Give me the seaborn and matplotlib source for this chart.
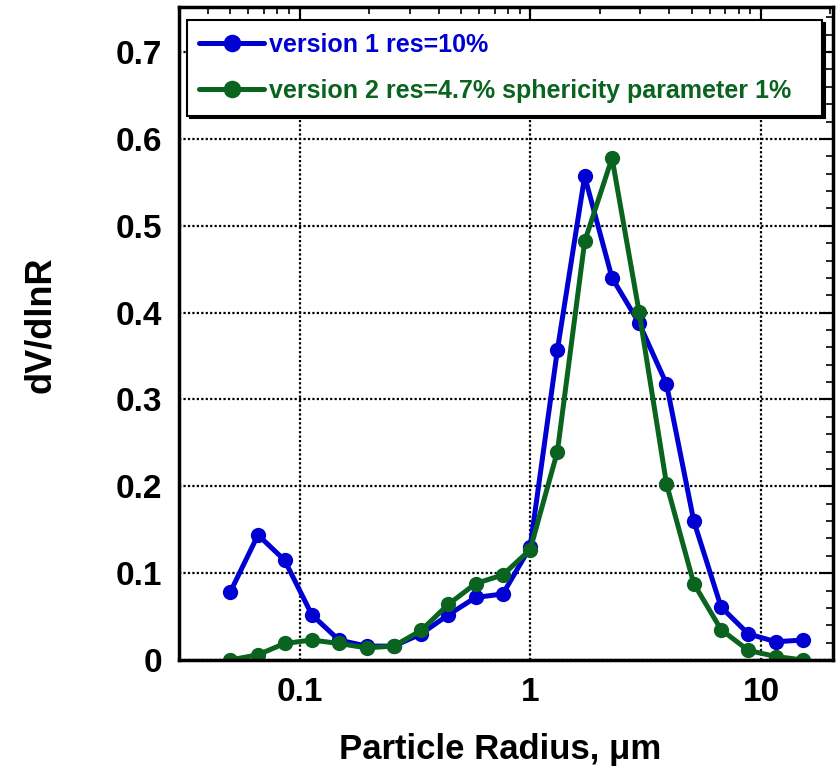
import numpy as np
import pandas as pd
import matplotlib
matplotlib.use("Agg")
import matplotlib.pyplot as plt
import matplotlib.ticker as mticker
import seaborn as sns

# ---- data ----
radius = [0.050, 0.066, 0.086, 0.113, 0.148, 0.195, 0.256, 0.336, 0.441, 0.579,
          0.760, 0.998, 1.31, 1.72, 2.26, 2.96, 3.89, 5.11, 6.71, 8.81, 11.6, 15.2]
v1 = [0.078, 0.144, 0.115, 0.052, 0.023, 0.016, 0.016, 0.030, 0.052, 0.072,
      0.076, 0.130, 0.357, 0.557, 0.440, 0.388, 0.318, 0.160, 0.061, 0.030, 0.021, 0.023]
v2 = [0.000, 0.006, 0.019, 0.023, 0.019, 0.014, 0.016, 0.034, 0.064, 0.088,
      0.098, 0.127, 0.240, 0.482, 0.578, 0.401, 0.203, 0.088, 0.035, 0.011, 0.004, 0.000]
label1 = "version 1 res=10%"
label2 = "version 2 res=4.7% sphericity parameter 1%"
yticks = [0, 0.1, 0.2, 0.3, 0.4, 0.5, 0.6, 0.7]
ytick_labels = ["0", "0.1", "0.2", "0.3", "0.4", "0.5", "0.6", "0.7"]
xticks = [0.1, 1, 10]
xtick_labels = ["0.1", "1", "10"]

df = pd.DataFrame({
    "radius": radius * 2,
    "value": v1 + v2,
    "series": [label1] * len(radius) + [label2] * len(radius),
})

sns.set_style("white")
plt.rcParams["font.family"] = ["Liberation Sans", "DejaVu Sans"]
plt.rcParams["font.weight"] = "bold"
plt.rcParams["text.color"] = "black"
plt.rcParams["axes.labelcolor"] = "black"
plt.rcParams["xtick.color"] = "black"
plt.rcParams["ytick.color"] = "black"

blue = "#0000d2"
green = "#0b6320"

fig = plt.figure(figsize=(8.38, 7.75), dpi=100)
ax = fig.add_axes([0.2136, 0.1484, 0.7804, 0.8426])

sns.lineplot(data=df, x="radius", y="value", hue="series",
             palette={label1: blue, label2: green},
             marker="o", markersize=11, markeredgewidth=0, linewidth=3.6,
             dashes=False, ax=ax, legend=True, sort=False)

ax.set_xscale("log")
ax.set_xlim(0.03, 20.5)
ax.set_ylim(0, 0.752)

ax.set_yticks(yticks)
ax.set_yticklabels(ytick_labels)
ax.yaxis.set_minor_locator(mticker.MultipleLocator(0.02))
ax.xaxis.set_major_locator(mticker.FixedLocator(xticks))
ax.xaxis.set_major_formatter(mticker.FixedFormatter(xtick_labels))
ax.xaxis.set_minor_locator(mticker.LogLocator(base=10, subs=np.arange(2, 10), numticks=20))
ax.xaxis.set_minor_formatter(mticker.NullFormatter())

ax.tick_params(which="major", direction="in", length=10, width=1.5,
               top=True, right=True, labelsize=24, color="black", labelcolor="black")
ax.tick_params(axis="y", which="major", pad=12)
ax.tick_params(axis="x", which="major", pad=12)
ax.tick_params(which="minor", direction="in", length=5, width=1.2,
               top=True, right=True, color="black")
for lab in ax.get_xticklabels() + ax.get_yticklabels():
    lab.set_fontweight("bold")

ax.grid(True, which="major", linestyle=(0, (1, 1)), linewidth=1.6, color="black")
for s in ax.spines.values():
    s.set_linewidth(2.5)
    s.set_color("black")

ax.set_xlabel("Particle Radius, \u03bcm", fontsize=25, fontweight="bold", color="black")
ax.set_ylabel("dV/dlnR", fontsize=26, fontweight="bold", color="black")
ax.xaxis.set_label_coords(0.491, -0.112)
ax.yaxis.set_label_coords(-0.185, 0.513)

leg = ax.legend(loc="upper left", bbox_to_anchor=(0.0122, 0.980, 0.971, 0.0),
                mode="expand", fontsize=18, frameon=True, fancybox=False,
                shadow={"color": "black", "alpha": 1.0}, labelcolor="linecolor",
                handlelength=2.6, handletextpad=0.2, labelspacing=0.9,
                borderpad=0.5, borderaxespad=0.0, markerscale=1.15)
leg.get_frame().set_edgecolor("black")
leg.get_frame().set_linewidth(1.5)
leg.get_frame().set_alpha(1.0)
for t in leg.get_texts():
    t.set_fontweight("bold")

fig.savefig("out.png", dpi=100)
